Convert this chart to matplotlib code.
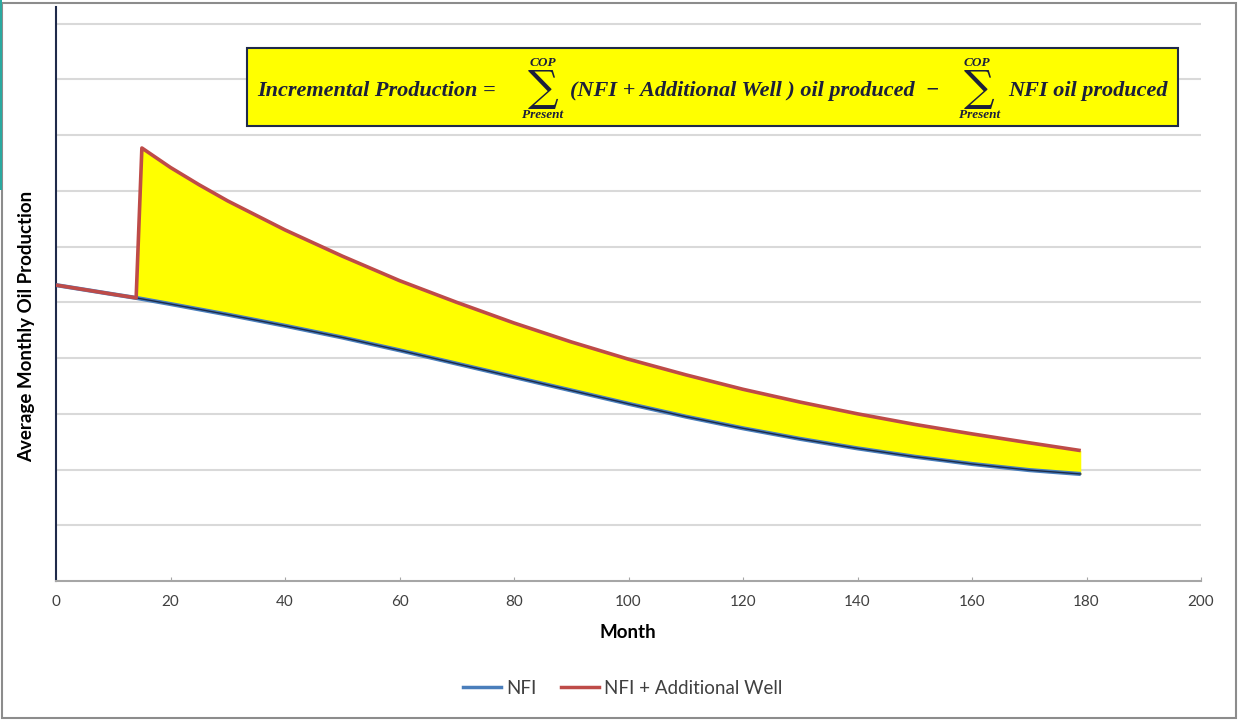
import numpy as np
import matplotlib.pyplot as plt
from matplotlib.lines import Line2D
from matplotlib.patches import Rectangle

plt.rcParams['font.family'] = ['Lato', 'DejaVu Sans']

# NFI forecast (arbitrary units: 1 unit = 1 gridline)
months = [0, 10, 14, 20, 30, 40, 50, 60, 70, 80, 90, 100, 110, 120, 130,
          140, 150, 160, 170, 179]
nfi = [5.31, 5.145, 5.08, 4.97, 4.78, 4.58, 4.37, 4.14, 3.90, 3.66, 3.42,
       3.18, 2.95, 2.74, 2.55, 2.38, 2.23, 2.10, 1.99, 1.92]

# NFI + additional well (well comes on at month 15)
well_months = [0, 10, 14, 15, 20, 25, 30, 40, 50, 60, 70, 80, 90, 100, 110,
               120, 130, 140, 150, 160, 170, 179]
well = [5.31, 5.145, 5.08, 7.77, 7.42, 7.11, 6.82, 6.30, 5.83, 5.39, 5.00,
        4.63, 4.29, 3.98, 3.70, 3.44, 3.21, 3.00, 2.81, 2.64, 2.48, 2.34]

W, H = 1241, 721
fig = plt.figure(figsize=(W / 100, H / 100), dpi=100)


def fx(x):
    return x / W


def fy(y):
    return 1 - y / H


# outer chart border + slide artefact on the left
fig.patches.append(Rectangle((fx(2), fy(718)), fx(1234), 715 / H, transform=fig.transFigure,
                             fill=False, edgecolor='#8c8c8c', lw=1.5))
fig.patches.append(Rectangle((0, fy(190)), fx(2.5), 190 / H, transform=fig.transFigure,
                             color='#2aa9a0', lw=0))

ax = fig.add_axes([fx(56), fy(581), fx(1201) - fx(56), fy(7) - fy(581)])

wm = np.array(well_months)
wv = np.array(well)
start = well_months.index(14)
nfi_at = np.interp(wm[start:], months, nfi)
ax.fill_between(wm[start:], nfi_at, wv[start:], color='#ffff00', lw=0, zorder=2)

ax.plot(months, nfi, color='#4a7ebb', lw=3, zorder=3, solid_capstyle='butt')
ax.plot(months, nfi, color='#1c2a48', lw=1, zorder=3.5)
ax.plot(well_months, well, color='#be4b48', lw=2.6, zorder=4, solid_capstyle='butt')

ax.set_xlim(0, 200)
ax.set_ylim(0, 10.3)
ax.set_xticks(range(0, 201, 20))
ax.set_yticks(range(1, 11))
ax.set_yticklabels([])
ax.tick_params(axis='y', length=0)
ax.tick_params(axis='x', direction='in', length=3, color='#a6a6a6', pad=10,
               labelsize=11, labelcolor='#404040')
ax.grid(axis='y', color='#d9d9d9', lw=1.5)
ax.set_axisbelow(True)
for s in ['top', 'right']:
    ax.spines[s].set_visible(False)
ax.spines['left'].set_color('#1f2a4a')
ax.spines['left'].set_linewidth(1.5)
ax.spines['bottom'].set_color('#a6a6a6')
ax.spines['bottom'].set_linewidth(1.5)

fig.text(fx(628), fy(632), 'Month', ha='center', va='center', fontsize=13.5,
         fontweight='bold', color='#000000')
fig.text(fx(27), fy(326), 'Average Monthly Oil Production', ha='center', va='center',
         rotation=90, fontsize=13.5, fontweight='bold', color='#000000')

# equation box
fig.patches.append(Rectangle((fx(247), fy(126)), fx(1178) - fx(247), 78 / H,
                             transform=fig.transFigure, facecolor='#ffff00',
                             edgecolor='#1f2a4a', lw=1.5, zorder=5))
eq = dict(family='Liberation Serif', style='italic', fontweight='bold',
          color='#1b1f3b', fontsize=16, va='baseline', zorder=6)
small = dict(family='Liberation Serif', style='italic', fontweight='bold',
             color='#1b1f3b', fontsize=9.5, ha='center', va='center', zorder=6)
sig = dict(family='DejaVu Serif', color='#1b1f3b', fontsize=31, ha='center',
           va='center', zorder=6)
fig.text(fx(257), fy(96), 'Incremental Production =', ha='left', **eq)
fig.text(fx(543), fy(89), '\u2211', **sig)
fig.text(fx(543), fy(63), 'COP', **small)
fig.text(fx(543), fy(115), 'Present', **small)
fig.text(fx(570), fy(96), '(NFI + Additional Well ) oil produced  \u2212', ha='left', **eq)
fig.text(fx(979), fy(89), '\u2211', **sig)
fig.text(fx(977), fy(63), 'COP', **small)
fig.text(fx(980), fy(115), 'Present', **small)
fig.text(fx(1168), fy(96), 'NFI oil produced', ha='right', **eq)

handles = [Line2D([], [], color='#4a7ebb', lw=2.5),
           Line2D([], [], color='#be4b48', lw=2.5)]
fig.legend(handles, ['NFI', 'NFI + Additional Well'], loc='center',
           bbox_to_anchor=(fx(623), fy(688)), ncol=2, frameon=False, fontsize=13.5,
           handlelength=2.0, handletextpad=0.3, columnspacing=1.3,
           labelcolor='#404040')

fig.savefig('out.png', dpi=100)
